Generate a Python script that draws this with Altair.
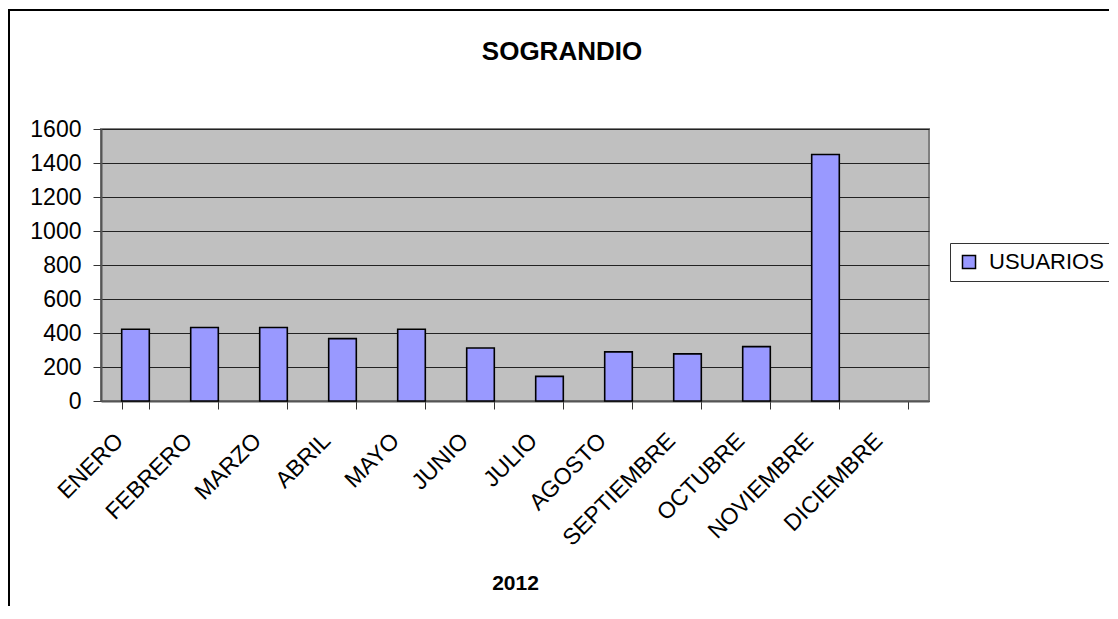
import altair as alt
import pandas as pd

months = ["ENERO", "FEBRERO", "MARZO", "ABRIL", "MAYO", "JUNIO", "JULIO",
          "AGOSTO", "SEPTIEMBRE", "OCTUBRE", "NOVIEMBRE", "DICIEMBRE"]
usuarios = [422, 432, 432, 367, 422, 312, 145, 289, 277, 320, 1450, None]
series = ["USUARIOS"] * len(months)
y_ticks = [0, 200, 400, 600, 800, 1000, 1200, 1400, 1600]

df = pd.DataFrame({"mes": months, "usuarios": usuarios, "serie": series})

FONT = "Liberation Sans"
W, H = 828, 272

bars = alt.Chart(df).mark_bar(
    stroke="black", strokeWidth=1.6, color="#9999FF"
).encode(
    x=alt.X("mes:N", sort=months,
            scale=alt.Scale(domain=months, paddingInner=0.6, paddingOuter=0.3),
            axis=alt.Axis(title="2012", labelAngle=-45, labelFontSize=23,
                          labelFont=FONT, labelColor="black",
                          labelPadding=20, labelOffset=-24,
                          tickBand="extent", tickSize=8, tickColor="#333333",
                          domainColor="#555555", domainWidth=2,
                          titleFont=FONT, titleFontSize=21, titleFontWeight="bold",
                          titleColor="black", titleBaseline="alphabetic",
                          titleY=188)),
    y=alt.Y("usuarios:Q",
            scale=alt.Scale(domain=[0, 1600], nice=False),
            axis=alt.Axis(title=None, values=y_ticks, format="d",
                          labelFontSize=23,
                          labelFont=FONT, labelColor="black", labelPadding=12,
                          tickSize=8, tickColor="#333333",
                          domainColor="#555555", domainWidth=2,
                          grid=True, gridColor="#222222", gridWidth=1,
                          gridOpacity=1)),
    color=alt.Color("serie:N", scale=alt.Scale(range=["#9999FF"]),
                    legend=alt.Legend(title=None, orient="none",
                                      legendX=849, legendY=114,
                                      symbolType="square", symbolSize=170,
                                      symbolStrokeColor="black",
                                      symbolStrokeWidth=1.5,
                                      symbolFillColor="#9999FF",
                                      labelFont=FONT, labelFontSize=22,
                                      labelColor="black", labelOffset=9,
                                      padding=8, strokeColor="#333333",
                                      fillColor="white")),
)

frame = alt.Chart(pd.DataFrame({"k": [0]})).mark_rect(
    fill=None, stroke="black", strokeWidth=2
).encode(
    x=alt.value(-92), x2=alt.value(1300),
    y=alt.value(-119), y2=alt.value(900),
)

chart = alt.layer(frame, bars).properties(
    width=W, height=H,
    padding={"left": 93, "top": 121, "right": 180, "bottom": 205},
    autosize=alt.AutoSizeParams(type="none"),
    title=alt.TitleParams("SOGRANDIO", font=FONT, fontSize=26,
                          fontWeight="bold", color="black",
                          anchor="middle", frame="group", dx=47,
                          baseline="alphabetic", offset=-77),
    background="white",
).configure_view(
    fill="#C0C0C0", stroke="#808080", strokeWidth=2
)

chart.save("out.html", embed_options={"renderer": "svg", "actions": False})
